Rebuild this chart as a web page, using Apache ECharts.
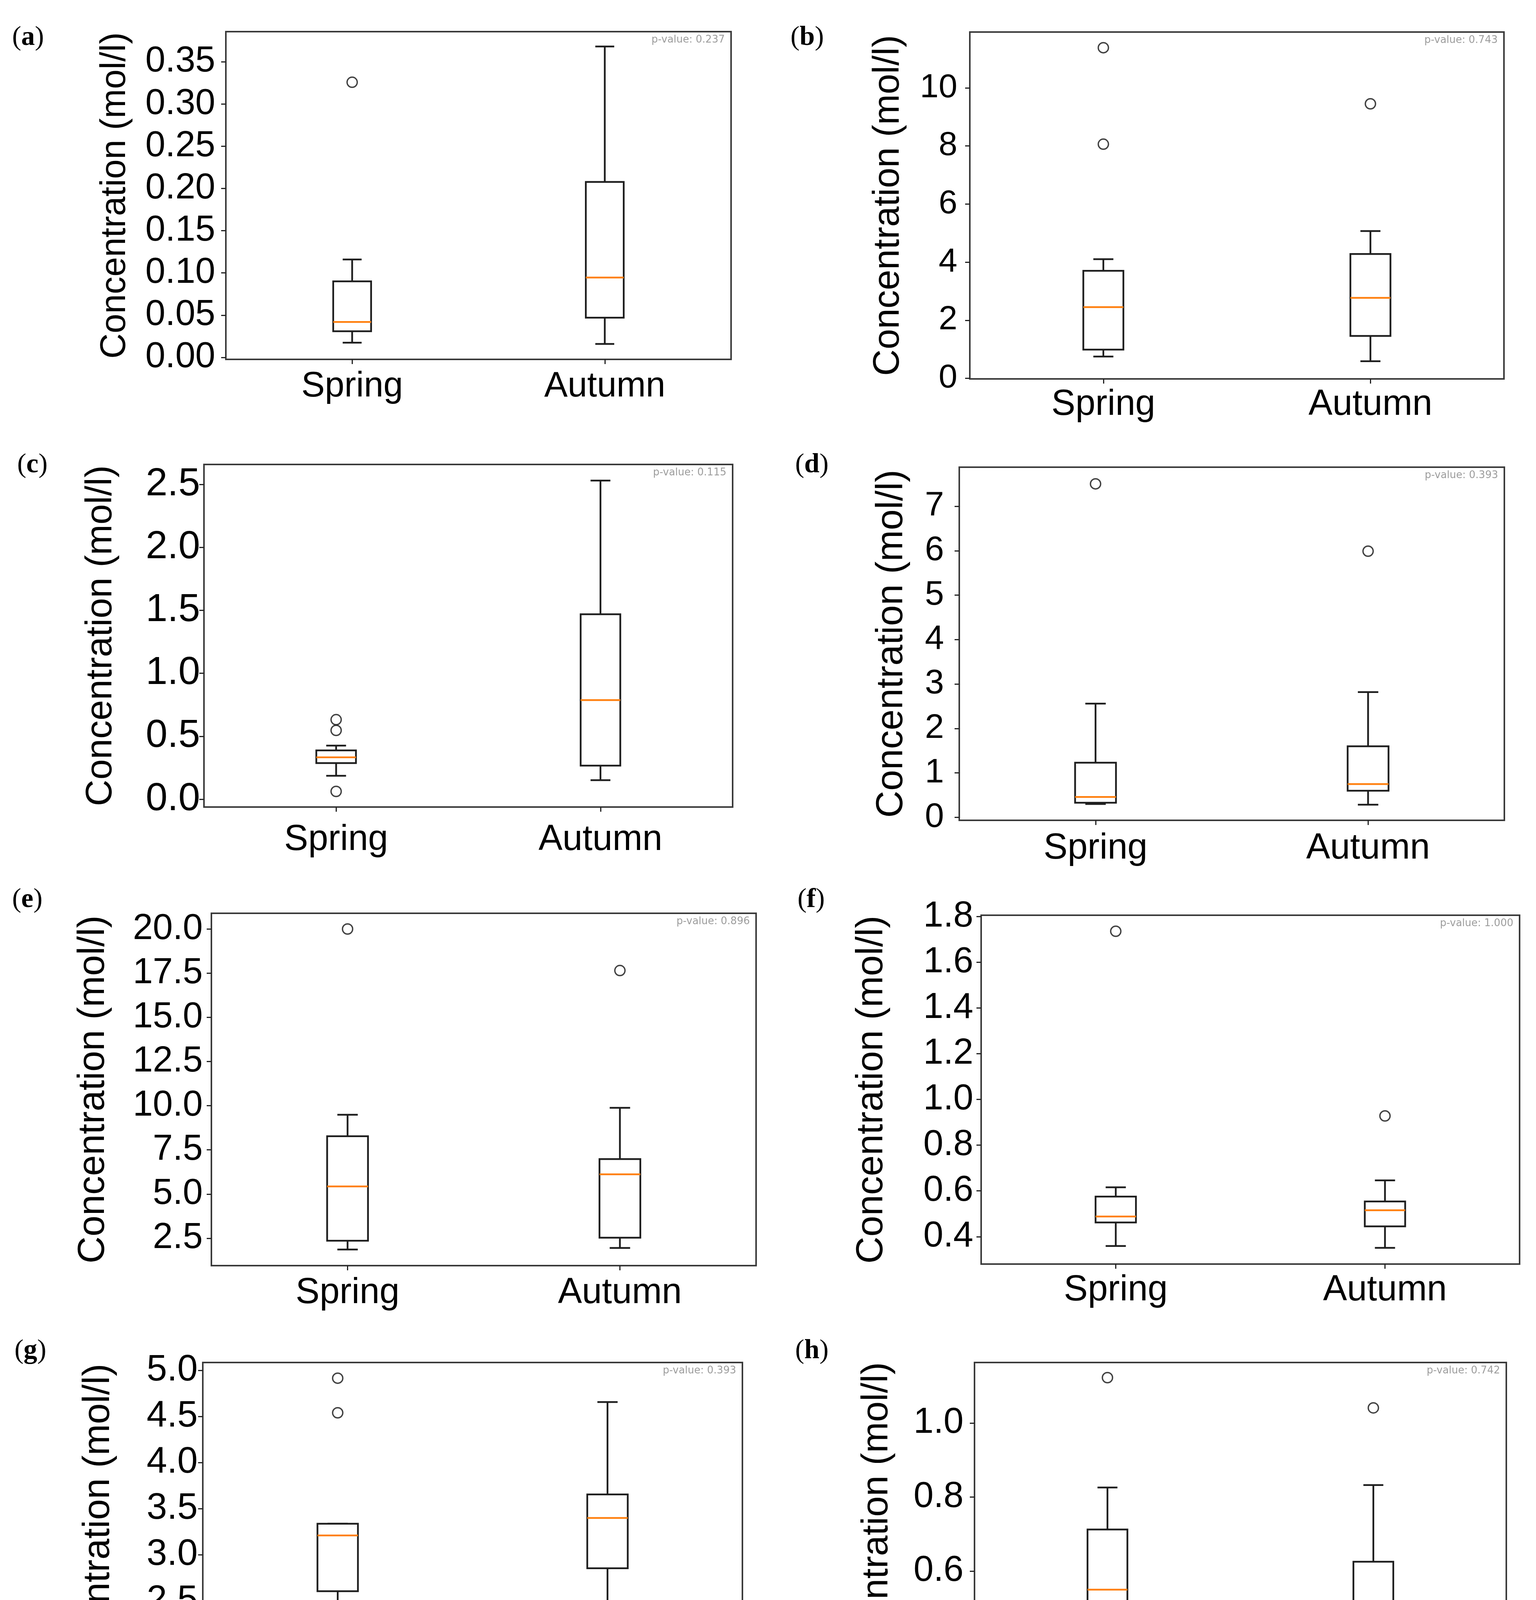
<!DOCTYPE html>
<html>
<head>
<meta charset="utf-8">
<script src="https://cdn.jsdelivr.net/npm/echarts@6/dist/echarts.min.js"></script>
<style>
  html, body { margin: 0; padding: 0; background: #fff; }
  #main { width: 3931px; height: 4552px; }
</style>
</head>
<body>
<div id="main"></div>
<script>
const seasons = ["Spring", "Autumn"];
const panelLetters = ["a", "b", "c", "d", "e", "f", "g", "h"];
const pValues = ["0.237", "0.743", "0.115", "0.393", "0.896", "1.000", "0.393", "0.742"];

// [lower whisker, Q1, median, Q3, upper whisker]
const springStats = [
  [0.0175, 0.031, 0.042, 0.090, 0.116],
  [0.75, 0.99, 2.45, 3.70, 4.10],
  [0.186, 0.287, 0.333, 0.388, 0.426],
  [0.30, 0.33, 0.46, 1.23, 2.56],
  [1.86, 2.36, 5.43, 8.27, 9.49],
  [0.359, 0.462, 0.488, 0.575, 0.616],
  [2.00, 2.606, 3.21, 3.337, 3.337],
  [0.276, 0.465, 0.550, 0.7125, 0.826]
];
const autumnStats = [
  [0.016, 0.047, 0.0946, 0.2077, 0.368],
  [0.59, 1.46, 2.77, 4.28, 5.07],
  [0.151, 0.267, 0.787, 1.469, 2.531],
  [0.286, 0.60, 0.75, 1.60, 2.82],
  [1.95, 2.53, 6.12, 6.98, 9.88],
  [0.351, 0.445, 0.5155, 0.554, 0.646],
  [1.647, 2.855, 3.40, 3.655, 4.656],
  [0.2985, 0.459, 0.513, 0.6255, 0.8325]
];
const springOutliers = [
  [0.3257], [8.06, 11.38], [0.632, 0.547, 0.062], [7.505],
  [20.0], [1.736], [4.915, 4.54, 1.457], [1.1227]
];
const autumnOutliers = [
  [], [9.45], [], [5.99], [17.65], [0.928], [], [1.041]
];

const yMin = [-0.0023, -0.02, -0.062, -0.066, 0.95, 0.28, 1.287, 0.235];
const yMax = [0.3856, 11.92, 2.659, 7.88, 20.89, 1.806, 5.085, 1.1636];
const yTicks = [
  [0, 0.05, 0.10, 0.15, 0.20, 0.25, 0.30, 0.35],
  [0, 2, 4, 6, 8, 10],
  [0, 0.5, 1.0, 1.5, 2.0, 2.5],
  [0, 1, 2, 3, 4, 5, 6, 7],
  [2.5, 5.0, 7.5, 10.0, 12.5, 15.0, 17.5, 20.0],
  [0.4, 0.6, 0.8, 1.0, 1.2, 1.4, 1.6, 1.8],
  [1.5, 2.0, 2.5, 3.0, 3.5, 4.0, 4.5, 5.0],
  [0.4, 0.6, 0.8, 1.0]
];
const tickDecimals = [2, 0, 1, 0, 1, 1, 1, 1];
const yTitle = "Concentration (mol/l)";

// layout of each panel in page pixels: plot box, label gaps, fonts
const boxes = [
  { l: 578, t: 81, r: 1871, b: 920, nameGap: 238, labMargin: 27, xMargin: 25, tickFont: 92, nameFont: 90, xFont: 90, letter: [31, 62] },
  { l: 2482, t: 82, r: 3849, b: 970, nameGap: 161, labMargin: 32, xMargin: 21, tickFont: 86, nameFont: 94, xFont: 92, letter: [2023, 62] },
  { l: 522, t: 1189, r: 1875, b: 2066, nameGap: 216, labMargin: 10, xMargin: 39, tickFont: 100, nameFont: 94, xFont: 92, letter: [44, 1156] },
  { l: 2455, t: 1196, r: 3850, b: 2100, nameGap: 124, labMargin: 39, xMargin: 27, tickFont: 88, nameFont: 96, xFont: 92, letter: [2035, 1156] },
  { l: 541, t: 2338, r: 1935, b: 3240, nameGap: 253, labMargin: 22, xMargin: 25, tickFont: 92, nameFont: 96, xFont: 92, letter: [31, 2269] },
  { l: 2511, t: 2343, r: 3889, b: 3236, nameGap: 231, labMargin: 20, xMargin: 22, tickFont: 92, nameFont: 96, xFont: 92, letter: [2041, 2269] },
  { l: 519, t: 3488, r: 1900, b: 4385, nameGap: 218, labMargin: 13, xMargin: 30, tickFont: 94, nameFont: 96, xFont: 92, letter: [37, 3424] },
  { l: 2494, t: 3488, r: 3855, b: 4368, nameGap: 202, labMargin: 28, xMargin: 27, tickFont: 92, nameFont: 95, xFont: 92, letter: [2035, 3424] }
];

const W = 3931;
const frameColor = "#3a3a3a";
const boxColor = "#1e1e1e";
const medianColor = "#ff7f0e";

function renderBox(params, api) {
  const cat = api.value(0);
  const low = api.coord([cat, api.value(1)]);
  const q1 = api.coord([cat, api.value(2)]);
  const med = api.coord([cat, api.value(3)]);
  const q3 = api.coord([cat, api.value(4)]);
  const high = api.coord([cat, api.value(5)]);
  const band = params.coordSys.width / seasons.length;
  const hw = band * 0.075;   // box width 0.15 of a category step
  const cw = hw / 2;         // caps are half the box width
  const cx = low[0];
  const st = { stroke: boxColor, lineWidth: 4.5, fill: null };
  return {
    type: "group",
    children: [
      { type: "line", shape: { x1: cx, y1: q1[1], x2: cx, y2: low[1] }, style: st },
      { type: "line", shape: { x1: cx, y1: q3[1], x2: cx, y2: high[1] }, style: st },
      { type: "line", shape: { x1: cx - cw, y1: low[1], x2: cx + cw, y2: low[1] }, style: st },
      { type: "line", shape: { x1: cx - cw, y1: high[1], x2: cx + cw, y2: high[1] }, style: st },
      { type: "rect", shape: { x: cx - hw, y: q3[1], width: 2 * hw, height: q1[1] - q3[1] }, style: st },
      { type: "line", shape: { x1: cx - hw, y1: med[1], x2: cx + hw, y2: med[1] },
        style: { stroke: medianColor, lineWidth: 4.5 } }
    ]
  };
}

const grid = [], xAxis = [], yAxis = [], series = [], title = [];

boxes.forEach(function (bx, i) {
  grid.push({
    left: bx.l, top: bx.t, width: bx.r - bx.l, height: bx.b - bx.t,
    show: true, borderColor: frameColor, borderWidth: 4, backgroundColor: "#fff"
  });
  xAxis.push({
    type: "category", gridIndex: i, data: seasons,
    axisLine: { show: true, onZero: false, lineStyle: { color: frameColor, width: 4 } },
    axisTick: { show: true, alignWithLabel: true, length: 12, lineStyle: { color: "#222", width: 3 } },
    axisLabel: { color: "#000", fontFamily: "Liberation Sans", fontSize: bx.xFont, margin: bx.xMargin },
    splitLine: { show: false }
  });
  yAxis.push({
    type: "value", gridIndex: i, min: yMin[i], max: yMax[i],
    name: yTitle, nameLocation: "middle", nameGap: bx.nameGap,
    nameTextStyle: { color: "#000", fontFamily: "Liberation Sans", fontSize: bx.nameFont },
    axisLine: { show: true, onZero: false, lineStyle: { color: frameColor, width: 4 } },
    axisTick: { show: true, length: 12, customValues: yTicks[i], lineStyle: { color: "#222", width: 3 } },
    axisLabel: {
      color: "#000", fontFamily: "Liberation Sans", fontSize: bx.tickFont, margin: bx.labMargin,
      customValues: yTicks[i],
      formatter: function (v) { return Number(v).toFixed(tickDecimals[i]); }
    },
    splitLine: { show: false }
  });
  series.push({
    type: "custom", xAxisIndex: i, yAxisIndex: i,
    renderItem: renderBox,
    encode: { x: 0, y: [1, 2, 3, 4, 5] },
    data: [[0].concat(springStats[i]), [1].concat(autumnStats[i])],
    silent: true
  });
  const fliers = springOutliers[i].map(function (v) { return [seasons[0], v]; })
    .concat(autumnOutliers[i].map(function (v) { return [seasons[1], v]; }));
  series.push({
    type: "scatter", xAxisIndex: i, yAxisIndex: i,
    symbol: "circle", symbolSize: 26,
    itemStyle: { color: "rgba(0,0,0,0)", borderColor: "#111", borderWidth: 3.5 },
    data: fliers, silent: true
  });
  title.push({
    text: "({l|" + panelLetters[i] + "})",
    left: bx.letter[0], top: bx.letter[1], padding: 0,
    textStyle: {
      fontFamily: "Liberation Serif", fontSize: 70, fontWeight: "normal", color: "#000",
      rich: { l: { fontFamily: "Liberation Serif", fontSize: 70, fontWeight: "bold", color: "#000" } }
    }
  });
  title.push({
    text: "p-value: " + pValues[i],
    right: W - bx.r + 16, top: bx.t + 8, padding: 0,
    textStyle: { fontFamily: "DejaVu Sans", fontSize: 26, fontWeight: "normal", color: "#9d9d9d" }
  });
});

const chart = echarts.init(document.getElementById("main"), null, { renderer: "canvas" });
chart.setOption({
  backgroundColor: "#fff",
  animation: false,
  title: title,
  grid: grid,
  xAxis: xAxis,
  yAxis: yAxis,
  series: series
});
window.onresize = function () { chart.resize(); };
</script>
</body>
</html>
